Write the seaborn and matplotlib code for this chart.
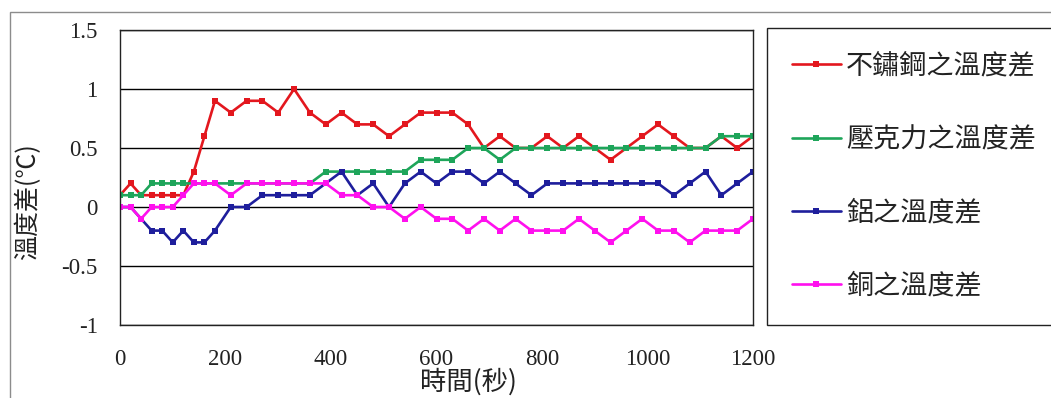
import matplotlib
matplotlib.use("Agg")
import matplotlib.pyplot as plt
import pandas as pd
import seaborn as sns
from matplotlib.lines import Line2D
from matplotlib.patches import Rectangle

# Sampling times (s): every 20 s at first, then every 30 s
times = [0, 20, 40, 60, 80, 100, 120, 140, 160, 180,
         210, 240, 270, 300, 330, 360, 390, 420, 450, 480,
         510, 540, 570, 600, 630, 660, 690, 720, 750, 780,
         810, 840, 870, 900, 930, 960, 990, 1020, 1050, 1080,
         1110, 1140, 1170, 1200]

# Temperature differences (deg C)
stainless = [0.1, 0.2, 0.1, 0.1, 0.1, 0.1, 0.1, 0.3, 0.6, 0.9,
             0.8, 0.9, 0.9, 0.8, 1.0, 0.8, 0.7, 0.8, 0.7, 0.7,
             0.6, 0.7, 0.8, 0.8, 0.8, 0.7, 0.5, 0.6, 0.5, 0.5,
             0.6, 0.5, 0.6, 0.5, 0.4, 0.5, 0.6, 0.7, 0.6, 0.5,
             0.5, 0.6, 0.5, 0.6]
acrylic = [0.1, 0.1, 0.1, 0.2, 0.2, 0.2, 0.2, 0.2, 0.2, 0.2,
           0.2, 0.2, 0.2, 0.2, 0.2, 0.2, 0.3, 0.3, 0.3, 0.3,
           0.3, 0.3, 0.4, 0.4, 0.4, 0.5, 0.5, 0.4, 0.5, 0.5,
           0.5, 0.5, 0.5, 0.5, 0.5, 0.5, 0.5, 0.5, 0.5, 0.5,
           0.5, 0.6, 0.6, 0.6]
aluminium = [0.0, 0.0, -0.1, -0.2, -0.2, -0.3, -0.2, -0.3, -0.3, -0.2,
             0.0, 0.0, 0.1, 0.1, 0.1, 0.1, 0.2, 0.3, 0.1, 0.2,
             0.0, 0.2, 0.3, 0.2, 0.3, 0.3, 0.2, 0.3, 0.2, 0.1,
             0.2, 0.2, 0.2, 0.2, 0.2, 0.2, 0.2, 0.2, 0.1, 0.2,
             0.3, 0.1, 0.2, 0.3]
copper = [0.0, 0.0, -0.1, 0.0, 0.0, 0.0, 0.1, 0.2, 0.2, 0.2,
          0.1, 0.2, 0.2, 0.2, 0.2, 0.2, 0.2, 0.1, 0.1, 0.0,
          0.0, -0.1, 0.0, -0.1, -0.1, -0.2, -0.1, -0.2, -0.1, -0.2,
          -0.2, -0.2, -0.1, -0.2, -0.3, -0.2, -0.1, -0.2, -0.2, -0.3,
          -0.2, -0.2, -0.2, -0.1]

series_names = ["不鏽鋼之溫度差", "壓克力之溫度差", "鋁之溫度差", "銅之溫度差"]
series_colors = ["#e3171e", "#1ea55a", "#1e1e9c", "#ff10ee"]
x_ticks = [0, 200, 400, 600, 800, 1000, 1200]
y_ticks = [-1, -0.5, 0, 0.5, 1, 1.5]
y_tick_labels = ["-1", "-0.5", "0", "0.5", "1", "1.5"]
x_label = "時間(秒)"
y_label = "溫度差(℃)"

sns.set_theme(style="white")
plt.rcParams["font.family"] = ["Noto Sans CJK TC", "DejaVu Sans"]

records = []
for name, vals in zip(series_names, [stainless, acrylic, aluminium, copper]):
    for t, v in zip(times, vals):
        records.append({"time": t, "value": v, "series": name})
df = pd.DataFrame(records)

W, H = 1051, 398
fig = plt.figure(figsize=(W / 100, H / 100), dpi=100)
fig.patch.set_facecolor("white")

# outer chart-area border
fig.add_artist(Rectangle((10 / W, -0.05), 1.1, (H - 12) / H + 0.05,
                         transform=fig.transFigure, fill=False,
                         edgecolor="#8c8c8c", linewidth=1.0))

ax = fig.add_axes([120 / W, (H - 325) / H, 633 / W, 295 / H])

sns.lineplot(data=df, x="time", y="value", hue="series",
             hue_order=series_names, palette=series_colors,
             estimator=None, sort=False, legend=False,
             marker="s", markersize=4.8, markeredgewidth=0,
             linewidth=1.9, ax=ax)

ax.set_xlim(0, 1200)
ax.set_ylim(-1, 1.5)
ax.set_xticks(x_ticks)
ax.set_yticks(y_ticks)
ax.set_yticklabels(y_tick_labels)
ax.yaxis.grid(True, color="black", linewidth=1.0)
ax.xaxis.grid(False)
for sp in ax.spines.values():
    sp.set_color("#222222")
    sp.set_linewidth(1.0)

ax.tick_params(axis="y", length=0, pad=16)
ax.tick_params(axis="x", length=0, pad=17)
for lab in ax.get_xticklabels() + ax.get_yticklabels():
    lab.set_fontfamily("Liberation Serif")
    lab.set_fontsize(16.5)
    lab.set_color("#222222")

ax.set_xlabel(x_label, fontsize=19, color="#222222")
ax.xaxis.set_label_coords(0.55, -0.145)
ax.set_ylabel(y_label, fontsize=18, color="#222222")
ax.yaxis.set_label_coords(-0.124, 0.418)

handles = [Line2D([0], [0], color=c, linewidth=1.9, marker="s",
                  markersize=4.8, markeredgewidth=0) for c in series_colors]
leg = fig.legend(handles, series_names, loc="upper left",
                 bbox_to_anchor=(767 / W, (H - 322) / H, 320 / W, 294 / H),
                 bbox_transform=fig.transFigure, mode="expand",
                 fontsize=19.5, frameon=True, fancybox=False, framealpha=1,
                 edgecolor="#222222", borderpad=0.92, labelspacing=1.71,
                 handlelength=1.8, handletextpad=0.2, borderaxespad=0,
                 numpoints=1)
leg.get_frame().set_linewidth(1.0)
for txt in leg.get_texts():
    txt.set_color("#222222")

fig.savefig("out.png", dpi=100, facecolor="white")
